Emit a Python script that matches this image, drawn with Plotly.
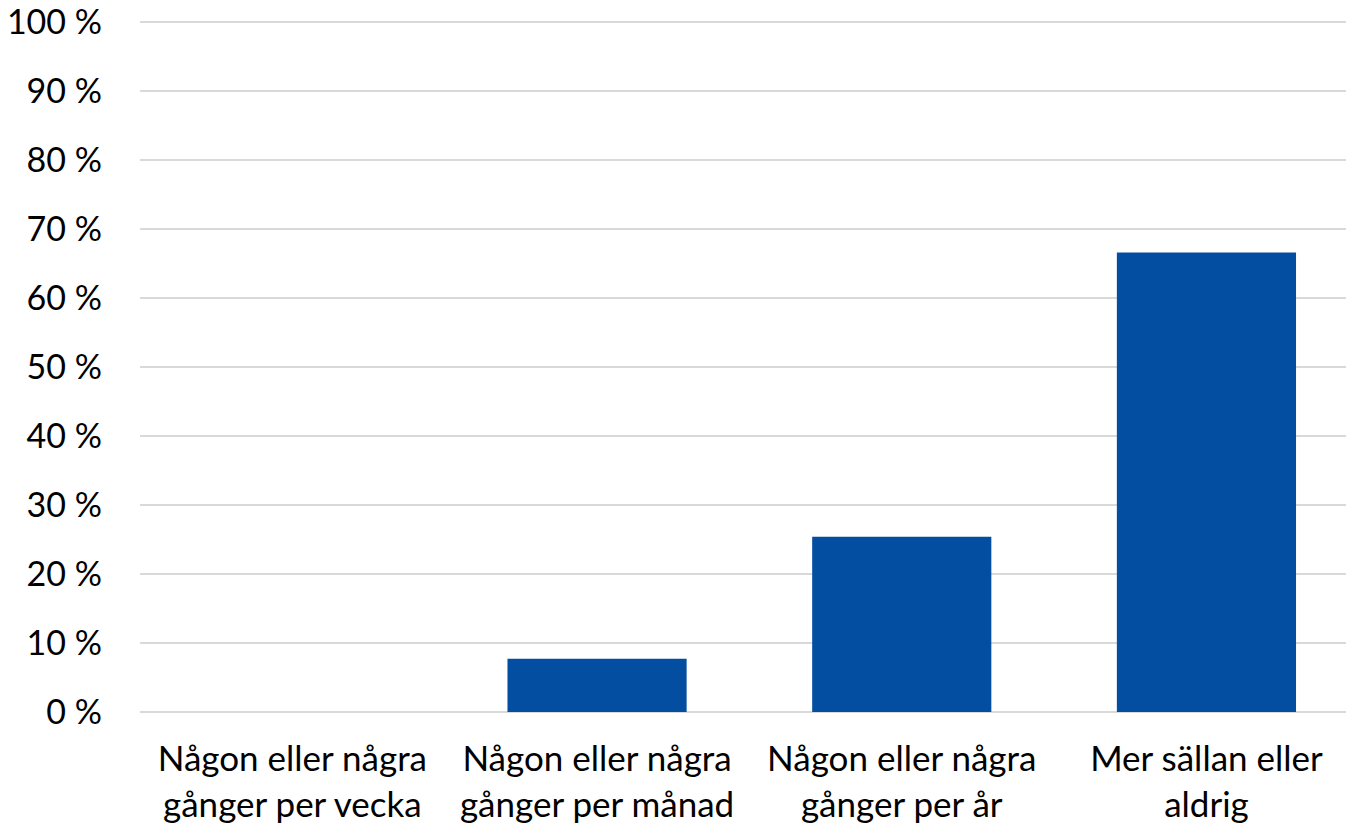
import plotly.graph_objects as go

categories = ["Någon eller några<br>gånger per vecka", "Någon eller några<br>gånger per månad",
              "Någon eller några<br>gånger per år", "Mer sällan eller<br>aldrig"]
values = [0, 7.7, 25.4, 66.6]
y_ticks = [0, 10, 20, 30, 40, 50, 60, 70, 80, 90, 100]
y_tick_text = [f"{v} %" for v in y_ticks]

fig = go.Figure(go.Bar(x=categories, y=values, marker_color="#044EA2", marker_line_width=0))

font = "Lato, Calibri, Carlito, sans-serif"
fig.update_layout(
    width=1346, height=826,
    margin=dict(l=140, r=0, t=21, b=114),
    paper_bgcolor="white", plot_bgcolor="white",
    bargap=0.412, showlegend=False,
    font=dict(family=font, size=35, color="#000000"),
)
fig.update_xaxes(range=[-0.5, 3.458], showgrid=False, showline=False, ticks="",
                 tickfont=dict(size=35), ticklabelstandoff=23, ticklabeloverflow="allow")
fig.update_yaxes(range=[0, 100.15], tickmode="array", tickvals=y_ticks, ticktext=y_tick_text,
                 showgrid=True, gridcolor="#D9D9D9", gridwidth=1.5,
                 zeroline=True, zerolinecolor="#D9D9D9", zerolinewidth=1.5,
                 showline=False, ticks="", ticklabelstandoff=37, ticklabeloverflow="allow",
                 tickfont=dict(size=34))
fig.write_html("out.html", config={"displayModeBar": False},
               post_script="document.body.style.margin='0';document.body.style.padding='0';")
